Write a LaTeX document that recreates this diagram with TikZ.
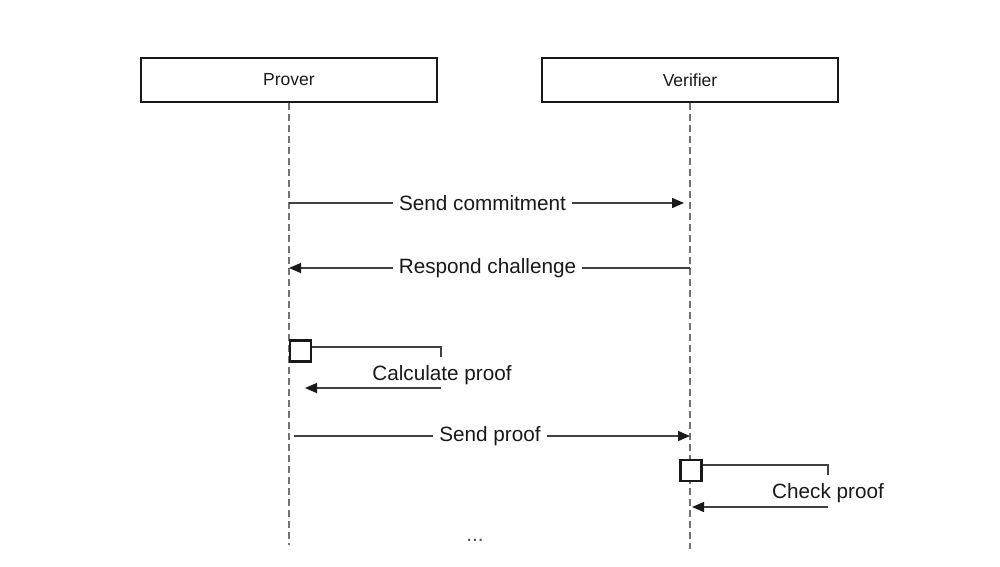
\documentclass[tikz,border=0pt]{standalone}
\usepackage{fontspec}
\setmainfont{Liberation Sans}
\usetikzlibrary{arrows.meta}
\begin{document}
\begin{tikzpicture}[x=1pt,y=-1pt,
 actor/.style={draw=black!90, line width=2.4pt, minimum width=296pt, minimum height=44pt, inner sep=0pt, font=\fontsize{17.5}{20}\selectfont, text=black!90},
 lifeline/.style={draw=black!55, line width=1.5pt, dash pattern=on 7pt off 4pt},
 msg/.style={draw=black!75, line width=1.4pt},
 arr/.style={msg, -{Triangle[length=12pt,width=10pt,color=black!90]}},
 lbl/.style={fill=white, inner xsep=6pt, inner ysep=1pt, font=\fontsize{20.7}{24}\selectfont, text=black!90},
 plain/.style={inner sep=1pt, font=\fontsize{20.7}{24}\selectfont, text=black!90},
 act/.style={draw=black!90, fill=white, line width=2.4pt, minimum size=21pt, inner sep=0pt}]
\useasboundingbox[fill=white] (0,0) rectangle (1000,566);

% actors
\node[actor] (prover) at (289,80) {Prover};
\node[actor] (verifier) at (690,80) {Verifier};

% lifelines
\coordinate (pend) at (289,545);
\coordinate (vend) at (690,549);
\draw[lifeline] (prover.south) -- (pend);
\draw[lifeline] (verifier.south) -- (vend);

% Send commitment
\coordinate (p1) at (289,203);
\coordinate (v1) at (684,203);
\draw[arr] (p1) -- node[lbl, pos=0.49] (m1) {Send commitment} (v1);

% Respond challenge
\coordinate (v2) at (690,268);
\coordinate (p2) at (289,268);
\draw[arr] (v2) -- node[lbl, pos=0.505] (m2) {Respond challenge} (p2);

% Calculate proof (self message)
\node[act] (pa) at (300.5,351) {};
\coordinate (pa1) at (441,347);
\coordinate (pa2) at (441,357);
\coordinate (pa3) at (441,388);
\coordinate (pa4) at (305,388);
\draw[msg] (pa.east |- pa1) -- (pa1) -- (pa2);
\draw[arr] (pa3) -- (pa4);
\node[plain] (calc) at (442,375) {Calculate proof};

% Send proof
\coordinate (p3) at (294,436);
\coordinate (v3) at (690,436);
\draw[arr] (p3) -- node[lbl, pos=0.495] (m3) {Send proof} (v3);

% Check proof (self message)
\node[act] (va) at (691,470.5) {};
\coordinate (va1) at (828,465);
\coordinate (va2) at (828,475);
\coordinate (va3) at (828,507);
\coordinate (va4) at (692,507);
\draw[msg] (va.east |- va1) -- (va1) -- (va2);
\draw[arr] (va3) -- (va4);
\node[plain] (check) at (828,493) {Check proof};

% continuation
\node[plain, text=black!70] (dots) at (475,540) {...};
\end{tikzpicture}
\end{document}
